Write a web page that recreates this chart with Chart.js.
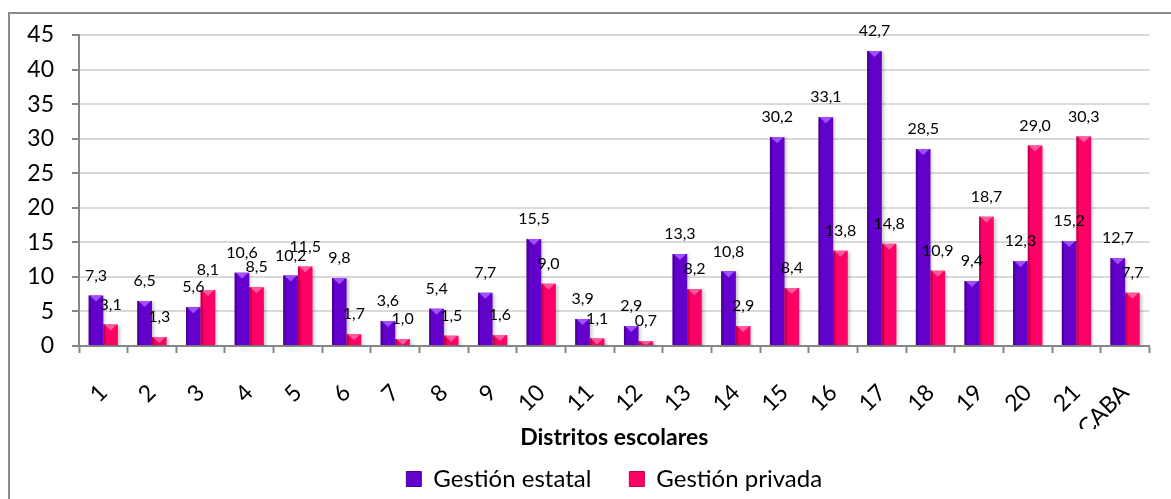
<!DOCTYPE html>
<html>
<head>
<meta charset="utf-8">
<script src="https://cdn.jsdelivr.net/npm/chart.js@4.4.1/dist/chart.umd.min.js"></script>
<style>
  html, body { margin: 0; padding: 0; background: #fff; overflow: hidden; }
  #wrap { position: relative; width: 1171px; height: 499px; }
  #frame { position: absolute; left: 8px; top: 12px; width: 1300px; height: 600px;
           border: 2px solid #8c8c8c; box-sizing: border-box; }
  #chart { position: absolute; left: 0; top: 0; }
</style>
</head>
<body>
<div id="wrap">
  <div id="frame"></div>
  <canvas id="chart" width="1171" height="499"></canvas>
</div>
<script>
'use strict';

var distritos = ['1', '2', '3', '4', '5', '6', '7', '8', '9', '10', '11',
    '12', '13', '14', '15', '16', '17', '18', '19', '20', '21', 'CABA'];

var gestionEstatal = [7.3, 6.5, 5.6, 10.6, 10.2, 9.8, 3.6, 5.4, 7.7, 15.5, 3.9,
    2.9, 13.3, 10.8, 30.2, 33.1, 42.7, 28.5, 9.4, 12.3, 15.2, 12.7];

var gestionPrivada = [3.1, 1.3, 8.1, 8.5, 11.5, 1.7, 1.0, 1.5, 1.6, 9.0, 1.1,
    0.7, 8.2, 2.9, 8.4, 13.8, 14.8, 10.9, 18.7, 29.0, 30.3, 7.7];

var yTicks = [0, 5, 10, 15, 20, 25, 30, 35, 40, 45];

var FONT = 'Lato, "Noto Sans", sans-serif';

// light top facet + dark left edge, to get the bevelled look of the original
var bevel = {
    0: { light: '#a050ff', dark: '#4a0099' },
    1: { light: '#ff5a9c', dark: '#c4004f' }
};

var barDecor = {
    id: 'barDecor',
    beforeDatasetsDraw: function (chart) {
        var ctx = chart.ctx;
        ctx.save();
        ctx.shadowColor = 'rgba(0,0,0,0.22)';
        ctx.shadowOffsetX = 2;
        ctx.shadowOffsetY = 1;
        ctx.shadowBlur = 3;
    },
    afterDatasetsDraw: function (chart) {
        var ctx = chart.ctx;
        ctx.restore();
        chart.data.datasets.forEach(function (ds, i) {
            var meta = chart.getDatasetMeta(i);
            meta.data.forEach(function (bar, j) {
                var w = bar.width, x0 = bar.x - w / 2, x1 = bar.x + w / 2;
                var top = bar.y, bottom = bar.base;
                var h = Math.min(6, bottom - top);
                ctx.fillStyle = bevel[i].dark;
                ctx.fillRect(x0, top, 2, bottom - top);
                ctx.fillStyle = bevel[i].light;
                ctx.beginPath();
                ctx.moveTo(x0 + 1, top);
                ctx.lineTo(x1 - 1, top);
                ctx.lineTo(bar.x, top + h);
                ctx.closePath();
                ctx.fill();
            });
        });
        // value labels
        ctx.save();
        ctx.font = '16px ' + FONT;
        ctx.fillStyle = '#000';
        ctx.textAlign = 'center';
        ctx.textBaseline = 'bottom';
        chart.data.datasets.forEach(function (ds, i) {
            var meta = chart.getDatasetMeta(i);
            meta.data.forEach(function (bar, j) {
                ctx.fillText(ds.data[j].toFixed(1).replace('.', ','), bar.x, bar.y - 12);
            });
        });
        ctx.restore();
    }
};

var ctx = document.getElementById('chart').getContext('2d');
var chart = new Chart(ctx, {
    type: 'bar',
    data: {
        labels: distritos,
        datasets: [
            {
                label: 'Gestión estatal',
                data: gestionEstatal,
                backgroundColor: '#6200cc',
                borderColor: '#4a0099',
                borderWidth: 0,
                barPercentage: 1,
                categoryPercentage: 0.6
            },
            {
                label: 'Gestión privada',
                data: gestionPrivada,
                backgroundColor: '#ff0066',
                borderColor: '#c4004f',
                borderWidth: 0,
                barPercentage: 1,
                categoryPercentage: 0.6
            }
        ]
    },
    options: {
        responsive: false,
        animation: false,
        layout: { padding: { left: 0, top: 35, right: 16, bottom: -2 } },
        plugins: {
            tooltip: { enabled: false },
            legend: {
                position: 'bottom',
                fullSize: false,
                labels: {
                    boxWidth: 15,
                    boxHeight: 15,
                    padding: 38,
                    color: '#000',
                    font: { family: FONT, size: 24 },
                    generateLabels: function (c) {
                        return c.data.datasets.map(function (ds, i) {
                            return {
                                text: ds.label,
                                fillStyle: ds.backgroundColor,
                                strokeStyle: ds.borderColor,
                                lineWidth: 1,
                                datasetIndex: i
                            };
                        });
                    }
                }
            }
        },
        scales: {
            x: {
                offset: true,
                grid: {
                    offset: true,
                    drawOnChartArea: false,
                    drawTicks: true,
                    tickLength: 7,
                    tickColor: '#868686',
                    tickWidth: 2
                },
                border: { color: '#868686', width: 2 },
                ticks: {
                    color: '#000',
                    font: { family: FONT, size: 23 },
                    minRotation: 45,
                    maxRotation: 45,
                    autoSkip: false,
                    padding: 26
                },
                title: {
                    display: true,
                    text: 'Distritos escolares',
                    color: '#000',
                    font: { family: FONT, size: 23, weight: 'bold' },
                    padding: { top: 0, bottom: -22 }
                },
                afterFit: function (scale) { scale.height = 83; }
            },
            y: {
                min: yTicks[0],
                max: yTicks[yTicks.length - 1],
                afterBuildTicks: function (scale) {
                    scale.ticks = yTicks.map(function (v) { return { value: v }; });
                },
                grid: {
                    color: '#d9d9d9',
                    lineWidth: 2,
                    tickLength: 7,
                    tickColor: '#868686',
                    tickWidth: 2
                },
                border: { color: '#868686', width: 2 },
                ticks: {
                    color: '#000',
                    font: { family: FONT, size: 23 },
                    padding: 18
                },
                afterFit: function (scale) { scale.width = 79; }
            }
        }
    },
    plugins: [barDecor]
});
</script>
</body>
</html>
